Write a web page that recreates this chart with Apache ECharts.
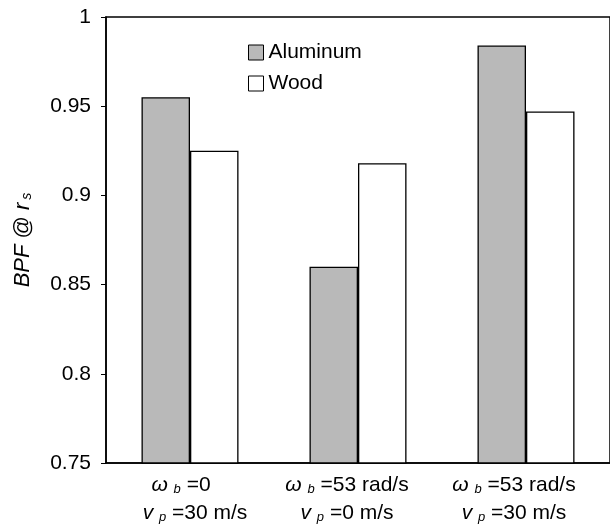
<!DOCTYPE html>
<html>
<head>
<meta charset="utf-8">
<script src="https://cdn.jsdelivr.net/npm/echarts@6/dist/echarts.min.js"></script>
<style>html,body{margin:0;padding:0;background:#fff;}#c{width:610px;height:528px;}</style>
</head>
<body>
<div id="c"></div>
<script>
var categories = ['{w|ω }{sub|b} =0{pad|}\n{w|v }{sub|p} =30 m/s', '{w|ω }{sub|b} =53 rad/s\n{w|v }{sub|p} =0 m/s', '{w|ω }{sub|b} =53 rad/s\n{w|v }{sub|p} =30 m/s'];
var labelShift = [5, -11, -12];
var aluminum = [0.955, 0.86, 0.984];
var wood = [0.925, 0.918, 0.947];
var yTickLabels = ['0.75', '0.8', '0.85', '0.9', '0.95', '1'];

var font = 'Liberation Sans, Arial, sans-serif';
var catData = categories.map(function (c, i) {
  var s = labelShift[i];
  return {value: c, textStyle: {padding: s >= 0 ? [0, 0, 0, 2 * s] : [0, -2 * s, 0, 0]}};
});
var chart = echarts.init(document.getElementById('c'), null, {renderer: 'canvas'});
chart.setOption({
  animation: false,
  backgroundColor: '#fff',
  textStyle: {fontFamily: font},
  grid: {left: 106, right: -7, top: 17, bottom: 65, show: true, borderColor: '#000', borderWidth: 1.5, backgroundColor: 'transparent'},
  legend: {
    orient: 'vertical', left: 248, top: 42, padding: 0, itemWidth: 15, itemHeight: 15, itemGap: 10,
    textStyle: {fontSize: 21, color: '#000', fontFamily: font},
    data: [
      {name: 'Aluminum', icon: 'rect', itemStyle: {color: '#b9b9b9', borderColor: '#000', borderWidth: 1}},
      {name: 'Wood', icon: 'rect', itemStyle: {color: '#fff', borderColor: '#000', borderWidth: 1}}
    ]
  },
  xAxis: {
    type: 'category', data: catData,
    axisLine: {lineStyle: {color: '#000', width: 1.5}},
    axisTick: {inside: true, length: 4, lineStyle: {color: '#000'}},
    axisLabel: {
      color: '#000', fontSize: 21, lineHeight: 28, margin: 8, interval: 0,
      rich: {
        w: {fontStyle: 'italic', fontSize: 21, fontFamily: font, color: '#000'},
        sub: {fontStyle: 'italic', fontSize: 13, fontFamily: font, color: '#000', padding: [8, 0, 0, 0]},
        pad: {width: 28}
      }
    }
  },
  yAxis: {
    type: 'value', min: 0.75, max: 1, interval: 0.05,
    name: '{i|BPF} @ {i|r}{sub|s}', nameLocation: 'middle', nameGap: 72,
    nameTextStyle: {fontSize: 22, color: '#000', fontFamily: font,
      rich: {
        i: {fontStyle: 'italic', fontSize: 22, fontFamily: font, color: '#000'},
        sub: {fontStyle: 'italic', fontSize: 14, fontFamily: font, color: '#000', padding: [8, 0, 0, 3]}
      }},
    axisLine: {show: true, lineStyle: {color: '#000', width: 1.5}},
    axisTick: {show: true, length: 5, lineStyle: {color: '#000'}},
    splitLine: {show: false},
    axisLabel: {
      color: '#000', fontSize: 21, margin: 15,
      formatter: function (v) {
        var idx = Math.round((v - 0.75) / 0.05);
        return yTickLabels[idx];
      }
    }
  },
  series: [
    {name: 'Aluminum', type: 'bar', data: aluminum, barWidth: 48.5, barGap: '0%',
     itemStyle: {color: '#b9b9b9', borderColor: '#000', borderWidth: 1.3}},
    {name: 'Wood', type: 'bar', data: wood, barWidth: 48.5, barGap: '0%',
     itemStyle: {color: '#fff', borderColor: '#000', borderWidth: 1.3}}
  ]
});
</script>
</body>
</html>
